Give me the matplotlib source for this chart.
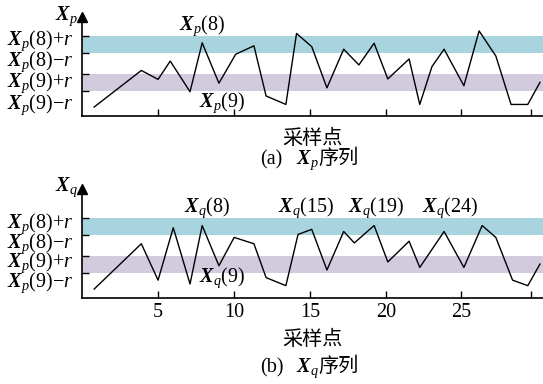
import matplotlib
matplotlib.use("Agg")
import matplotlib.pyplot as plt

plt.rcParams["mathtext.fontset"] = "custom"
plt.rcParams["mathtext.rm"] = "Liberation Serif"
plt.rcParams["mathtext.it"] = "Liberation Serif:italic"
plt.rcParams["mathtext.bf"] = "Liberation Serif:italic:bold"
plt.rcParams["font.family"] = ["Liberation Serif", "Noto Sans CJK SC"]

# band limits: Xp(8)=8.5, Xp(9)=4, r=1
xp8, xp9, r = 8.5, 4.0, 1.0

# Xp series (vertices)
xp_x = [0.8, 3.9, 5.0, 5.8, 7.1, 7.9, 9.0, 10.1, 11.3, 12.1, 13.4, 14.1, 15.1, 16.1,
        17.2, 18.2, 19.2, 20.1, 21.5, 22.2, 23.0, 23.8, 25.1, 26.1, 27.2, 28.2, 29.3, 30.1]
xp_y = [1.1, 5.4, 4.35, 6.5, 2.9, 8.65, 3.9, 7.3, 8.3, 2.4, 1.4, 9.75, 8.2, 3.35,
        7.9, 6.05, 8.6, 4.4, 6.75, 1.4, 5.85, 7.9, 3.6, 10.05, 7.1, 1.4, 1.4, 4.0]

# Xq series
xq_x = [0.8, 3.9, 5.0, 6.0, 7.1, 7.9, 9.0, 10.0, 11.3, 12.1, 13.4, 14.2, 15.1, 16.1,
        17.2, 17.9, 19.2, 20.1, 21.5, 22.2, 23.8, 25.1, 26.3, 27.2, 28.3, 29.3, 30.1]
xq_y = [1.1, 6.45, 2.15, 8.35, 1.7, 8.6, 3.85, 7.2, 6.45, 2.45, 1.5, 7.55, 8.15, 3.35,
        7.9, 6.55, 8.6, 4.3, 6.75, 3.65, 7.9, 3.65, 8.6, 7.2, 2.15, 1.5, 4.05]

tick_pos = [5, 10, 15, 20, 24.9, 29.5]
tick_lab = ["5", "10", "15", "20", "25", ""]
ylabels = [r"$\mathbf{X}_p(8){+}r$", r"$\mathbf{X}_p(8){-}r$",
           r"$\mathbf{X}_p(9){+}r$", r"$\mathbf{X}_p(9){-}r$"]

TEAL = "#a7d4de"
PURPLE = "#d2cbde"
FS = 14.5


def panel(ax, xs, ys, ytop, lab_y, name, notes, show_nums):
    ax.axhspan(xp8 - r, xp8 + r, color=TEAL, lw=0, zorder=0)
    ax.axhspan(xp9 - r, xp9 + r, color=PURPLE, lw=0, zorder=0)
    ax.plot(xs, ys, color="black", lw=1.0, zorder=3)
    ax.set_xlim(0, 30.3)
    ax.set_ylim(0, ytop)
    for s in ("top", "right"):
        ax.spines[s].set_visible(False)
    for s in ("left", "bottom"):
        ax.spines[s].set_linewidth(1.2)
    ax.set_yticks([xp8 + r, xp8 - r, xp9 + r, xp9 - r])
    ax.set_yticklabels([])
    ax.set_xticks(tick_pos)
    ax.set_xticklabels(tick_lab if show_nums else [], fontsize=FS)
    ax.tick_params(direction="in", length=5, width=1.0, pad=3)
    # arrow head on y axis
    ax.plot([0], [1], marker="^", ms=7, color="black", transform=ax.transAxes, clip_on=False)
    for yy, t in zip(lab_y, ylabels):
        ax.text(-0.6, yy, t, ha="right", va="center", fontsize=FS, clip_on=False)
    ax.text(-0.3, ytop + 0.1, name, ha="right", va="center", fontsize=FS, clip_on=False)
    for x, y, t in notes:
        ax.text(x, y, t, ha="center", va="center", fontsize=FS, zorder=4)


fig = plt.figure(figsize=(5.43, 3.84), dpi=100)
ax1 = fig.add_axes([0.151, 0.697, 0.849, 0.259])
ax2 = fig.add_axes([0.151, 0.223, 0.849, 0.286])

panel(ax1, xp_x, xp_y, 11.7, [8.95, 6.4, 3.9, 1.35], r"$\mathbf{X}_p$",
      [(7.9, 10.7, r"$\mathbf{X}_p(8)$"), (9.2, 1.6, r"$\mathbf{X}_p(9)$")], False)
panel(ax2, xq_x, xq_y, 12.97, [8.85, 6.5, 4.25, 1.8], r"$\mathbf{X}_q$",
      [(8.2, 10.7, r"$\mathbf{X}_q(8)$"), (9.2, 2.4, r"$\mathbf{X}_q(9)$"),
       (14.7, 10.7, r"$\mathbf{X}_q(15)$"), (19.3, 10.7, r"$\mathbf{X}_q(19)$"),
       (24.2, 10.7, r"$\mathbf{X}_q(24)$")], True)

W, H = 543, 384
fig.text(312 / W, 1 - 139 / H, "采样点", ha="center", va="center", fontsize=FS)
fig.text(312 / W, 1 - 340 / H, "采样点", ha="center", va="center", fontsize=FS)
# captions: "(a) X_p序列" split into pieces so the CJK font is used for 序列
for y, tag, sym in [(160, "(a)", r"$\mathbf{X}_p$"), (368, "(b)", r"$\mathbf{X}_q$")]:
    fig.text(260 / W, 1 - y / H, tag, ha="left", va="center", fontsize=FS)
    fig.text(296 / W, 1 - y / H, sym, ha="left", va="center", fontsize=FS)
    fig.text(318 / W, 1 - (y - 1) / H, "序列", ha="left", va="center", fontsize=FS)

fig.savefig("out.png", dpi=100)
